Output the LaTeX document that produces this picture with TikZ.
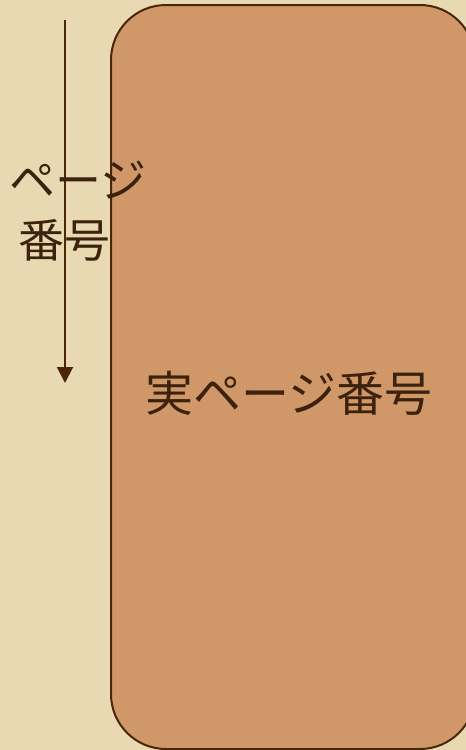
\documentclass[tikz,border=0pt]{standalone}
\usepackage{fontspec}
\newfontfamily\jpfont{Noto Sans CJK JP}
\usetikzlibrary{arrows.meta}
\definecolor{bgc}{HTML}{E8D9B3}
\definecolor{boxc}{HTML}{D09868}
\definecolor{inkc}{HTML}{4A2608}
\definecolor{txtc}{HTML}{3C220C}
\tikzset{
  jptext/.style={font=\jpfont\fontsize{46}{60}\selectfont, text=txtc, inner sep=0pt},
  pagebox/.style={draw=inkc, line width=2pt, fill=boxc, rounded corners=55pt},
  flow/.style={draw=inkc, line width=2pt, -{Triangle[width=16pt,length=16pt]}}
}
\begin{document}
\begin{tikzpicture}[x=1pt,y=-1pt]
\useasboundingbox (0,0) rectangle (466,750);
\fill[bgc] (0,0) rectangle (466,750);
\draw[pagebox] (111,5) rectangle (475,749);
\node[jptext, font=\jpfont\fontsize{48}{60}\selectfont] (lbl) at (289,393) {実ページ番号};
\coordinate (s) at (65,20);
\coordinate (e) at (65,383);
\draw[flow] (s) -- (e);
\node[jptext] (t1) at (78,180) {ページ};
\node[jptext] (t2) at (65,240) {番号};
\end{tikzpicture}
\end{document}
